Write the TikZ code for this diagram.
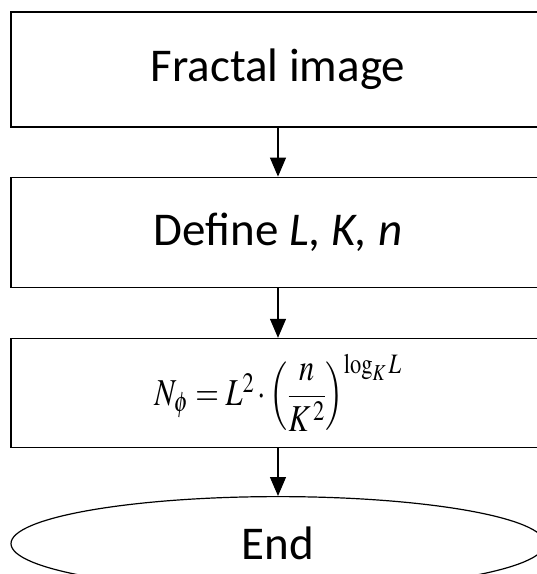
\documentclass[tikz,border=0pt]{standalone}
\usepackage{amsmath}
\usepackage{mathptmx}
\usepackage{graphicx}
\usepackage{fontspec}
\setmainfont{Carlito}
\usepackage{tikz}
\usetikzlibrary{shapes.geometric, arrows.meta, positioning}

\begin{document}
\begin{tikzpicture}[
    x=1pt, y=1pt,
    node distance=49pt,
    stepbox/.style={rectangle, draw=black, line width=1.2pt, minimum width=534pt,
        minimum height=#1, inner sep=0pt, align=center, font=\fontsize{47}{56}\selectfont},
    endbox/.style={ellipse, draw=black, line width=1.2pt, minimum width=534pt,
        minimum height=94pt, inner sep=0pt, font=\fontsize{47}{56}\selectfont},
    arr/.style={-{Triangle[length=19pt, width=16pt]}, line width=1.2pt},
]
\useasboundingbox (0,0) rectangle (537,-574);
\clip (0,0) rectangle (537,-574);

% Flow of steps
\node[stepbox=115pt] (image) at (278,-69.5) {Fractal image};
\node[stepbox=110pt, below=of image] (define) {Define \textit{L, K, n}};
\node[stepbox=109pt, below=50pt of define] (count)
    {\scalebox{0.8}[1]{\fontsize{38}{45}\selectfont\thickmuskip=4mu\medmuskip=2mu
     $N_{\phi} = L^{2}\cdot\left(\dfrac{n}{K^{\,2}}\right)^{\log_{K} L}$}};
\node[endbox, below=48pt of count] (finish) {End};

\draw[arr] (image) -- (define);
\draw[arr] (define) -- (count);
\draw[arr] (count) -- (finish);

\end{tikzpicture}
\end{document}
